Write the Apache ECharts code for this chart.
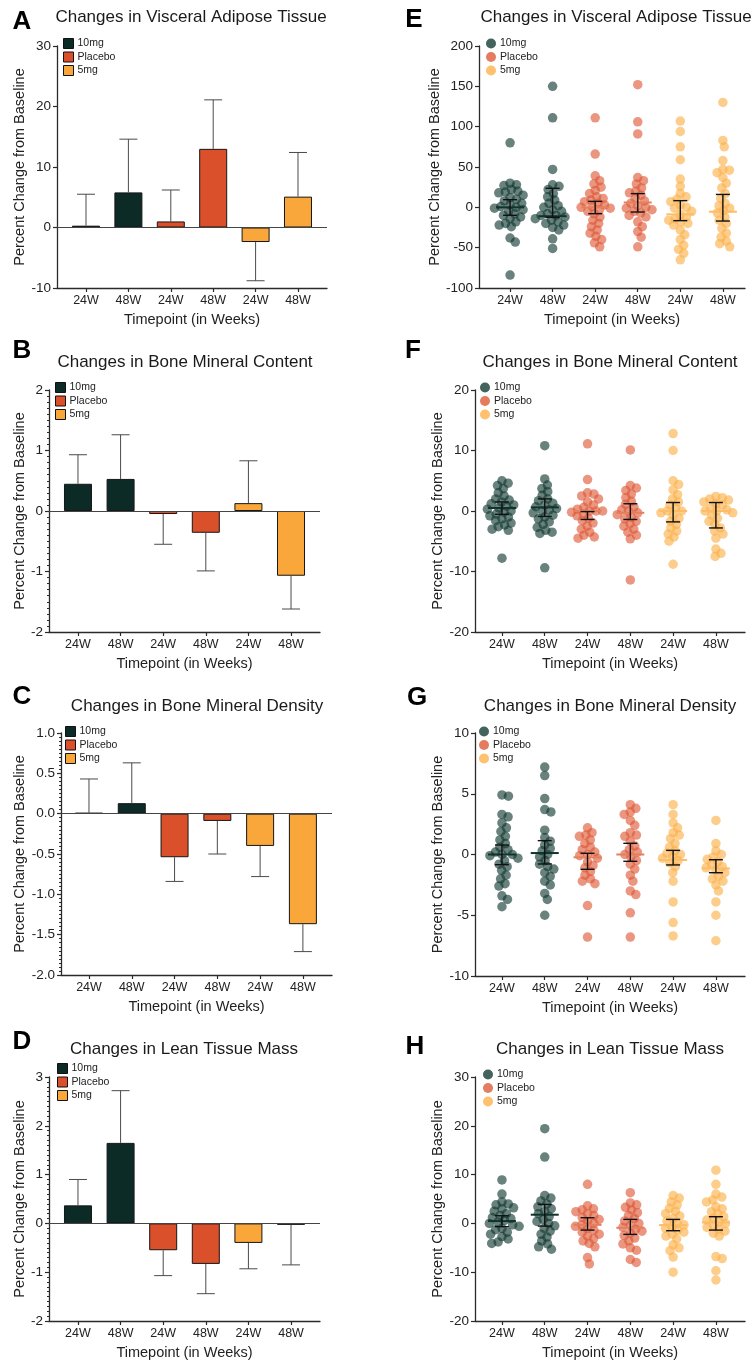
<!DOCTYPE html>
<html><head><meta charset="utf-8">
<script src="https://cdn.jsdelivr.net/npm/echarts@6/dist/echarts.min.js"></script>
<style>html,body{margin:0;padding:0;background:#fff}#c{width:756px;height:1363px}</style>
</head><body><div id="c"></div>
<script>
const groups = ['10mg', 'Placebo', '5mg'];
const tickLabels = ['24W', '48W', '24W', '48W', '24W', '48W'];
const groupOfCat = [0, 0, 1, 1, 2, 2];
const yAxisTitle = 'Percent Change from Baseline';
const xAxisTitle = 'Timepoint (in Weeks)';

// ---- Bar panels (A-D): bar height and error bar end ----
const vatBarMean = [0.3, 5.8, 1.0, 13.0, -2.4, 5.1];
const vatBarErr  = [5.5, 14.6, 6.2, 21.1, -8.8, 12.4];
const bmcBarMean = [0.45, 0.53, -0.05, -0.36, 0.13, -1.07];
const bmcBarErr  = [0.93, 1.26, -0.55, -0.99, 0.83, -1.62];
const bmdBarMean = [0.01, 0.13, -0.54, -0.09, -0.40, -1.37];
const bmdBarErr  = [0.43, 0.63, -0.84, -0.50, -0.78, -1.71];
const ltmBarMean = [0.37, 1.65, -0.55, -0.83, -0.40, -0.03];
const ltmBarErr  = [0.90, 2.72, -1.07, -1.44, -0.93, -0.85];

// ---- Dot panels (E-H): individual values per category ----
const vatPts = [
  [80, 30, 28, 27, 22, 20, 19, 18, 15, 12, 10, 8, 5, 3, 1, 0, -1, -3, -5, -8, -10, -12, -14, -18, -20, -22, -24, -38, -43, -84],
  [150, 111, 47, 28, 26, 22, 17, 13, 9, 5, 2, 0, -3, -5, -8, -10, -10, -12, -14, -16, -18, -20, -22, -25, -28, -39, -51],
  [111, 66, 39, 33, 29, 25, 21, 17, 13, 11, 9, 7, 5, 3, 1, 0, -1, -3, -5, -8, -12, -16, -20, -24, -28, -32, -36, -40, -44, -49],
  [152, 106, 91, 37, 33, 29, 24, 20, 18, 15, 11, 8, 5, 2, 0, -1, -3, -5, -7, -10, -12, -18, -24, -30, -37, -49],
  [107, 94, 75, 59, 35, 26, 17, 13, 10, 7, 3, 0, -1, -5, -9, -12, -14, -16, -18, -20, -22, -28, -34, -40, -47, -52, -57, -65],
  [130, 83, 75, 58, 47, 46, 43, 37, 30, 24, 17, 11, 5, 2, -1, -4, -7, -12, -16, -20, -26, -32, -37, -42, -45, -49]
];
const bmcPts = [
  [5, 4.6, 4.2, 3.7, 3, 2.5, 2, 1.8, 1.5, 1.2, 1, 0.8, 0.5, 0.3, 0, -0.2, -0.5, -0.8, -1, -1.3, -1.6, -2, -2.3, -2.6, -3, -3.2, -7.8],
  [10.8, 5.3, 4.3, 3.7, 3.2, 2.6, 2, 1.7, 1.3, 1, 0.7, 0.4, 0.2, 0, -0.3, -0.7, -1, -1.3, -1.8, -2.2, -2.7, -3.2, -3.5, -3.7, -9.4],
  [11.1, 5.2, 3, 2.8, 2.5, 2, 1.5, 1, 0.6, 0.3, 0, 0, 0, -0.2, -0.5, -0.8, -1.2, -1.6, -2, -2.5, -3, -3.5, -4, -4.3, -4.5],
  [10.1, 4.2, 3.8, 3.4, 2.8, 2.2, 1.6, 1.1, 0.6, 0.2, 0, -0.3, -0.6, -1, -1.3, -1.7, -2.1, -2.5, -3, -3.5, -4, -4.6, -11.4],
  [12.8, 10, 5, 4.4, 3.5, 2.7, 2, 1.5, 1, 0.5, 0, 0, -0.3, -0.7, -1.2, -1.7, -2.2, -2.8, -3.3, -3.8, -4.3, -5, -8.8],
  [2.4, 2.2, 2, 1.8, 1.5, 1.2, 1, 0.5, 0.2, 0, 0, -0.3, -0.7, -1.2, -1.7, -2.2, -2.8, -3.3, -3.8, -4.5, -6.3, -7, -7.5]
];
const bmdPts = [
  [4.9, 4.8, 3.3, 3.1, 2.6, 2.2, 1.9, 1.5, 1.2, 0.9, 0.6, 0.4, 0.2, 0, 0, -0.1, -0.3, -0.5, -0.8, -1.0, -1.3, -1.7, -2.0, -2.4, -2.6, -3.4, -3.7, -4.3],
  [7.2, 6.5, 4.6, 3.7, 3.5, 2.0, 1.4, 1.1, 0.8, 0.5, 0.3, 0, -0.2, -0.5, -0.8, -1.0, -1.2, -1.5, -1.8, -2.2, -2.5, -3.2, -3.7, -5.0],
  [2.2, 1.8, 1.6, 1.5, 1.2, 0.9, 0.6, 0.4, 0.2, 0, -0.1, -0.3, -0.6, -0.9, -1.1, -1.4, -1.7, -2, -2.2, -2.4, -4.2, -6.8],
  [4.1, 3.8, 3.5, 3.3, 2.8, 2.4, 1.8, 1.6, 1.5, 1.1, 0.7, 0.4, 0.2, 0, -0.2, -0.5, -0.8, -1.2, -1.7, -2.2, -3.0, -3.3, -4.8, -6.8],
  [4.1, 3.3, 2.6, 2.2, 1.8, 1.6, 1.3, 0.9, 0.6, 0.3, 0.1, 0, -0.2, -0.3, -0.5, -0.7, -1.0, -1.5, -2.2, -3.9, -5.6, -6.7],
  [2.8, 0.9, 0.3, 0, -0.2, -0.4, -0.6, -0.8, -1.0, -1.1, -1.3, -1.5, -1.8, -2.0, -2.2, -2.5, -3.0, -3.9, -5.0, -7.1]
];
const ltmPts = [
  [8.9, 6.0, 4.4, 4.0, 3.8, 3.2, 3.0, 2.5, 2.0, 1.6, 1.2, 1.0, 0.6, 0.3, 0, -0.3, -0.6, -1.0, -1.3, -1.8, -2.2, -2.7, -3.2, -3.8, -4.1],
  [19.4, 13.6, 5.7, 5.2, 4.6, 4.0, 3.4, 3.0, 2.4, 2.0, 1.4, 0.8, 0.4, 0, -0.5, -1.0, -1.6, -2.2, -2.8, -3.6, -4.2, -4.8, -5.3],
  [8.0, 3.6, 3.0, 2.8, 2.4, 2.0, 1.6, 1.2, 0.8, 0.4, 0, -0.3, -0.6, -1.0, -1.4, -1.8, -2.2, -2.6, -3.1, -3.6, -4.1, -4.8, -7.0, -8.3],
  [6.3, 4.2, 3.8, 3.3, 2.8, 2.2, 1.6, 1.0, 0.5, 0, -0.4, -0.8, -1.2, -1.6, -2.0, -2.5, -3.0, -3.6, -4.2, -5.0, -5.5, -7.4, -8.0],
  [5.7, 5.2, 4.4, 3.8, 3.1, 2.5, 2.0, 1.5, 1.0, 0.5, 0, -0.3, -0.7, -1.0, -1.4, -1.8, -2.2, -2.6, -3.2, -4.4, -5.0, -5.6, -6.9, -10.0],
  [10.9, 8.0, 6.0, 5.4, 4.8, 4.4, 3.4, 3.0, 2.4, 2.0, 1.4, 1.0, 0.7, 0.3, 0, -0.4, -0.8, -1.2, -1.6, -2.0, -2.6, -6.8, -7.2, -9.7, -11.6]
];
// central line and interval ends for dot panels
const vatCenter = [0, -11, 0, 6, -8.7, -5.4];
const vatLo = [-9.9, -12.4, -7.9, -5.8, -16.5, -17];
const vatHi = [9.5, 23.6, 7.4, 17, 8.3, 16];
const bmcCenter = [0.5, 0.6, 0, -0.3, 0, 0];
const bmcLo = [-0.55, -0.9, -1.4, -1.4, -1.8, -2.8];
const bmcHi = [1.5, 2.0, -0.1, 1.2, 1.4, 1.4];
const bmdCenter = [0, 0.12, -0.23, 0, -0.45, -1.14];
const bmdLo = [-0.84, -0.78, -1.22, -0.56, -0.86, -1.5];
const bmdHi = [0.78, 1.14, 0.1, 0.92, 0.34, -0.43];
const ltmCenter = [0.48, 1.78, -0.3, -0.9, -0.34, 0.2];
const ltmLo = [-0.68, -0.55, -1.37, -2.25, -1.5, -1.37];
const ltmHi = [1.57, 3.9, 1.16, 0.82, 0.82, 1.37];

// ---- styles ----
const FONT = "'Liberation Sans', Arial, sans-serif";
const barColors = ['#0c2b27', '#d9502b', '#f9a63b'];
const dotColors = ['rgba(15,55,46,0.78)', 'rgba(221,87,51,0.78)', 'rgba(252,175,70,0.78)'];
const meanColors = ['#12332d', '#e5805f', '#fcbd66'];
const axisColor = '#2a2a2a';

const panels = [
  {kind: 'bar', letter: 'A', title: 'Changes in Visceral Adipose Tissue', mean: vatBarMean, err: vatBarErr,
   grid: {left: 57, top: 46, width: 270, height: 242}, xr: [-0.684, 5.684], y: [-10, 30, 10], minor: false, dec: 0,
   lx: 22, ly: 22, tx: 191, ty: 17, leg: [63, 38], nameGap: 29},
  {kind: 'bar', letter: 'B', title: 'Changes in Bone Mineral Content', mean: bmcBarMean, err: bmcBarErr,
   grid: {left: 49, top: 390, width: 271, height: 242}, xr: [-0.68, 5.68], y: [-2, 2, 1], minor: true, dec: 0,
   lx: 22, ly: 351, tx: 185, ty: 362, leg: [55, 382], nameGap: 21},
  {kind: 'bar', letter: 'C', title: 'Changes in Bone Mineral Density', mean: bmdBarMean, err: bmdBarErr,
   grid: {left: 61, top: 733, width: 271, height: 242}, xr: [-0.654, 5.68], y: [-2, 1, 0.5], minor: true, dec: 1,
   lx: 22, ly: 697, tx: 197, ty: 706, leg: [65, 726], nameGap: 33},
  {kind: 'bar', letter: 'D', title: 'Changes in Lean Tissue Mass', mean: ltmBarMean, err: ltmBarErr,
   grid: {left: 49, top: 1077, width: 271, height: 244}, xr: [-0.68, 5.68], y: [-2, 3, 1], minor: true, dec: 0,
   lx: 22, ly: 1042, tx: 184, ty: 1049, leg: [57, 1063], nameGap: 21},
  {kind: 'dot', letter: 'E', title: 'Changes in Visceral Adipose Tissue', pts: vatPts, center: vatCenter, lo: vatLo, hi: vatHi,
   grid: {left: 479, top: 46, width: 266, height: 242}, xr: [-0.73, 5.52], y: [-100, 200, 50], dec: 0,
   lx: 414, ly: 20, tx: 616, ty: 17, leg: [486, 38], nameGap: 33},
  {kind: 'dot', letter: 'F', title: 'Changes in Bone Mineral Content', pts: bmcPts, center: bmcCenter, lo: bmcLo, hi: bmcHi,
   grid: {left: 475, top: 390, width: 270, height: 242}, xr: [-0.63, 5.68], y: [-20, 20, 10], dec: 0,
   lx: 413, ly: 351, tx: 610, ty: 362, leg: [480, 382], nameGap: 29},
  {kind: 'dot', letter: 'G', title: 'Changes in Bone Mineral Density', pts: bmdPts, center: bmdCenter, lo: bmdLo, hi: bmdHi,
   grid: {left: 475, top: 733, width: 270, height: 243}, xr: [-0.63, 5.68], y: [-10, 10, 5], dec: 0,
   lx: 417, ly: 698, tx: 610, ty: 706, leg: [479, 726], nameGap: 29},
  {kind: 'dot', letter: 'H', title: 'Changes in Lean Tissue Mass', pts: ltmPts, center: ltmCenter, lo: ltmLo, hi: ltmHi,
   grid: {left: 475, top: 1077, width: 270, height: 244}, xr: [-0.63, 5.68], y: [-20, 30, 10], dec: 0,
   lx: 415, ly: 1047, tx: 610, ty: 1049, leg: [483, 1069], nameGap: 29}
];

// beeswarm layout: horizontal pixel offsets so dots do not pile on top of each other
function swarmOffsets(vals, pxPerUnit, dia) {
  const idx = vals.map((v, i) => i).sort((a, b) => vals[b] - vals[a]);
  const placed = [];
  const out = new Array(vals.length).fill(0);
  idx.forEach(i => {
    const y = vals[i] * pxPerUnit;
    const near = placed.filter(p => Math.abs(p.y - y) < dia);
    const cands = [0];
    near.forEach(p => {
      const dx = Math.sqrt(dia * dia - (p.y - y) * (p.y - y));
      cands.push(p.x + dx, p.x - dx);
    });
    cands.sort((a, b) => Math.abs(a) - Math.abs(b) || b - a);
    let x = 0;
    for (const c of cands) {
      if (near.every(p => (p.x - c) * (p.x - c) + (p.y - y) * (p.y - y) >= dia * dia - 0.01)) { x = c; break; }
    }
    placed.push({x, y});
    out[i] = x;
  });
  return out;
}

const cats = [0, 1, 2, 3, 4, 5];
const option = {animation: false, backgroundColor: '#fff', grid: [], xAxis: [], yAxis: [], series: [], legend: [], graphic: []};

panels.forEach((p, i) => {
  option.grid.push(Object.assign({containLabel: false}, p.grid));
  option.xAxis.push({
    gridIndex: i, type: 'value', min: p.xr[0], max: p.xr[1],
    axisLine: {show: true, onZero: false, lineStyle: {color: axisColor, width: 1.3}},
    axisTick: {show: true, customValues: cats, length: 4, lineStyle: {color: axisColor, width: 1.2}},
    axisLabel: {customValues: cats, formatter: v => tickLabels[Math.round(v)], fontSize: 12.5, color: '#222', margin: 6, fontFamily: FONT},
    splitLine: {show: false},
    name: xAxisTitle, nameLocation: 'middle', nameGap: 24,
    nameTextStyle: {fontSize: 14.5, color: '#222', fontFamily: FONT}
  });
  option.yAxis.push({
    gridIndex: i, type: 'value', min: p.y[0], max: p.y[1], interval: p.y[2],
    axisLine: {show: true, onZero: false, lineStyle: {color: axisColor, width: 1.3}},
    axisTick: {show: true, length: 4, lineStyle: {color: axisColor, width: 1.2}},
    minorTick: {show: !!p.minor, splitNumber: 10, length: 2, lineStyle: {color: axisColor, width: 1}},
    axisLabel: {fontSize: 13.5, color: '#222', margin: 6, fontFamily: FONT, formatter: v => v.toFixed(p.dec)},
    splitLine: {show: false},
    name: yAxisTitle, nameLocation: 'middle', nameGap: p.nameGap,
    nameTextStyle: {fontSize: 14.5, color: '#222', fontFamily: FONT}
  });

  option.graphic.push(
    {type: 'text', x: p.lx, y: p.ly, style: {text: p.letter, font: 'bold 26px ' + FONT, fill: '#000', align: 'center', verticalAlign: 'middle'}},
    {type: 'text', x: p.tx, y: p.ty, style: {text: p.title, font: '17px ' + FONT, fill: '#1a1a1a', align: 'center', verticalAlign: 'middle'}}
  );

  option.legend.push({
    left: p.leg[0], top: p.leg[1], orient: 'vertical', padding: 0, itemGap: 2.5,
    itemWidth: 10, itemHeight: 10, selectedMode: false,
    textStyle: {fontSize: 10.5, color: '#222', fontFamily: FONT, padding: [0, 0, 0, -1]},
    data: groups.map((g, k) => p.kind === 'bar'
      ? {name: g, icon: 'rect', itemStyle: {color: barColors[k], borderColor: '#111', borderWidth: 1}}
      : {name: g, icon: 'circle', itemStyle: {color: dotColors[k], borderWidth: 0}})
  });

  if (p.kind === 'bar') {
    groups.forEach((g, k) => {
      const s = {
        type: 'bar', name: g, xAxisIndex: i, yAxisIndex: i, barWidth: 28, barGap: '-100%',
        itemStyle: {color: barColors[k], borderColor: '#161616', borderWidth: 1},
        data: cats.filter(c => groupOfCat[c] === k).map(c => [c, p.mean[c]]), z: 3
      };
      if (k === 0) {
        s.markLine = {silent: true, symbol: 'none', label: {show: false}, animation: false,
          lineStyle: {color: '#444', width: 1.2, type: 'solid'}, data: [{yAxis: 0}]};
      }
      option.series.push(s);
    });
    option.series.push({
      type: 'custom', xAxisIndex: i, yAxisIndex: i, z: 4, silent: true,
      data: cats.map(c => [c, p.mean[c], p.err[c]]),
      renderItem: (params, api) => {
        const x = api.value(0);
        const a = api.coord([x, api.value(1)]);
        const b = api.coord([x, api.value(2)]);
        const hw = 9;
        const st = {stroke: '#4a4a4a', lineWidth: 1};
        return {type: 'group', children: [
          {type: 'line', shape: {x1: a[0], y1: a[1], x2: b[0], y2: b[1]}, style: st},
          {type: 'line', shape: {x1: b[0] - hw, y1: b[1], x2: b[0] + hw, y2: b[1]}, style: st}
        ]};
      }
    });
  } else {
    const pxPerUnit = p.grid.height / (p.y[1] - p.y[0]);
    const pxPerCat = p.grid.width / (p.xr[1] - p.xr[0]);
    const byGroup = [[], [], []];
    cats.forEach(c => {
      const vals = p.pts[c];
      const offs = swarmOffsets(vals, pxPerUnit, 6.6);
      vals.forEach((v, j) => byGroup[groupOfCat[c]].push([c + offs[j] / pxPerCat, v]));
    });
    groups.forEach((g, k) => {
      option.series.push({
        type: 'scatter', name: g, xAxisIndex: i, yAxisIndex: i, symbol: 'circle', symbolSize: 9.5,
        itemStyle: {color: dotColors[k], borderWidth: 0}, data: byGroup[k], z: 2
      });
    });
    option.series.push({
      type: 'custom', xAxisIndex: i, yAxisIndex: i, z: 5, silent: true,
      data: cats.map(c => [c, p.center[c], p.lo[c], p.hi[c], groupOfCat[c]]),
      renderItem: (params, api) => {
        const x = api.value(0);
        const m = api.coord([x, api.value(1)]);
        const lo = api.coord([x, api.value(2)]);
        const hi = api.coord([x, api.value(3)]);
        const g = api.value(4);
        const st = {stroke: '#111', lineWidth: 1.4};
        return {type: 'group', children: [
          {type: 'line', shape: {x1: m[0] - 14, y1: m[1], x2: m[0] + 14, y2: m[1]}, style: {stroke: meanColors[g], lineWidth: 2}},
          {type: 'line', shape: {x1: lo[0], y1: lo[1], x2: hi[0], y2: hi[1]}, style: st},
          {type: 'line', shape: {x1: lo[0] - 7, y1: lo[1], x2: lo[0] + 7, y2: lo[1]}, style: st},
          {type: 'line', shape: {x1: hi[0] - 7, y1: hi[1], x2: hi[0] + 7, y2: hi[1]}, style: st}
        ]};
      }
    });
  }
});

const chart = echarts.init(document.getElementById('c'), null, {renderer: 'canvas'});
chart.setOption(option);
</script>
</body></html>
